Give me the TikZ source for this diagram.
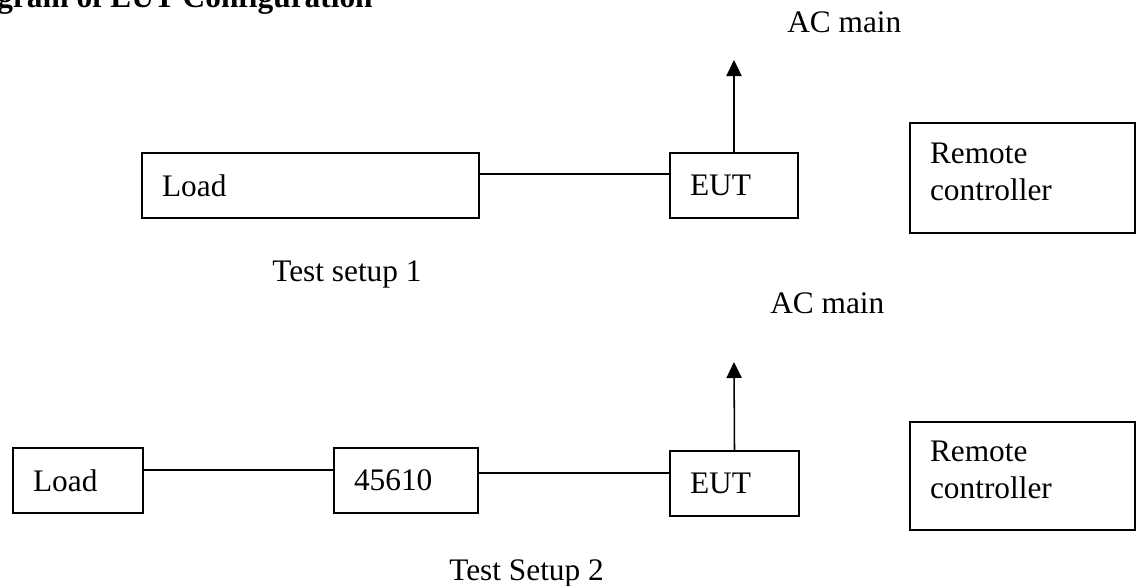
\documentclass[tikz,border=0pt]{standalone}
\usepackage{fontspec}
\setmainfont{Liberation Serif}
\usepackage{tikz}
\usetikzlibrary{arrows.meta,positioning,calc}
\tikzset{
  block/.style={rectangle, draw=black, line width=1.4pt, inner xsep=0.5cm, inner ysep=0pt,
                align=left, minimum height=1.625cm},
  twoline/.style={block, text depth=1.225cm},
  wire/.style={line width=1.1pt},
  arrow/.style={-{Triangle[length=0.4cm, width=0.38cm]}, line width=1.1pt},
  note/.style={anchor=base west, inner sep=0pt},
}

\begin{document}
\begin{tikzpicture}[every node/.style={font=\fontsize{22.3}{26.3}\selectfont}]
\useasboundingbox (0,0) rectangle (28.5,-14.625);

\node[note, font=\fontsize{22.3}{26.3}\selectfont\bfseries] (title) at (-0.075,-0.175) {gram of EUT Configuration};

% setup 1
\node[block, text width=7.425cm] (load1) at (7.7625,-4.6375) {Load};
\node[block, text width=2.2cm] (eut1) at (18.35,-4.6375) {EUT};
\node[twoline, text width=4.625cm, minimum height=2.75cm] (remote1) at (25.5625,-4.45) {Remote\\controller};
\coordinate (mains1) at (18.35,-1.5);
\node[note] (ac1) at (19.675,-0.8) {AC main};
\node[note] (test1) at (6.8,-7.025) {Test setup 1};

\draw[wire] ([yshift=0.2875cm]load1.east) -- ([yshift=0.2875cm]eut1.west);
\draw[arrow] (eut1.north) -- (mains1);

% setup 2
\node[block, text width=2.25cm] (load2) at (1.95,-12.0125) {Load};
\node[block, text width=2.6cm] (aux) at (10.15,-12.0125) {45610};
\node[block, text width=2.225cm] (eut2) at (18.3625,-12.0875) {EUT};
\node[twoline, text width=4.625cm, minimum height=2.7cm] (remote2) at (25.5625,-11.9) {Remote\\controller};
\coordinate (mains2) at (18.35,-9.05);
\node[note] (ac2) at (19.25,-7.825) {AC main};
\node[note] (test2) at (11.225,-14.5) {Test Setup 2};

\draw[wire] ([yshift=0.2625cm]load2.east) -- ([yshift=0.2625cm]aux.west);
\draw[wire] ([yshift=0.1875cm]aux.east) -- ([yshift=0.2625cm]eut2.west);
\draw[arrow] (eut2.north) -- (mains2);
\end{tikzpicture}
\end{document}
